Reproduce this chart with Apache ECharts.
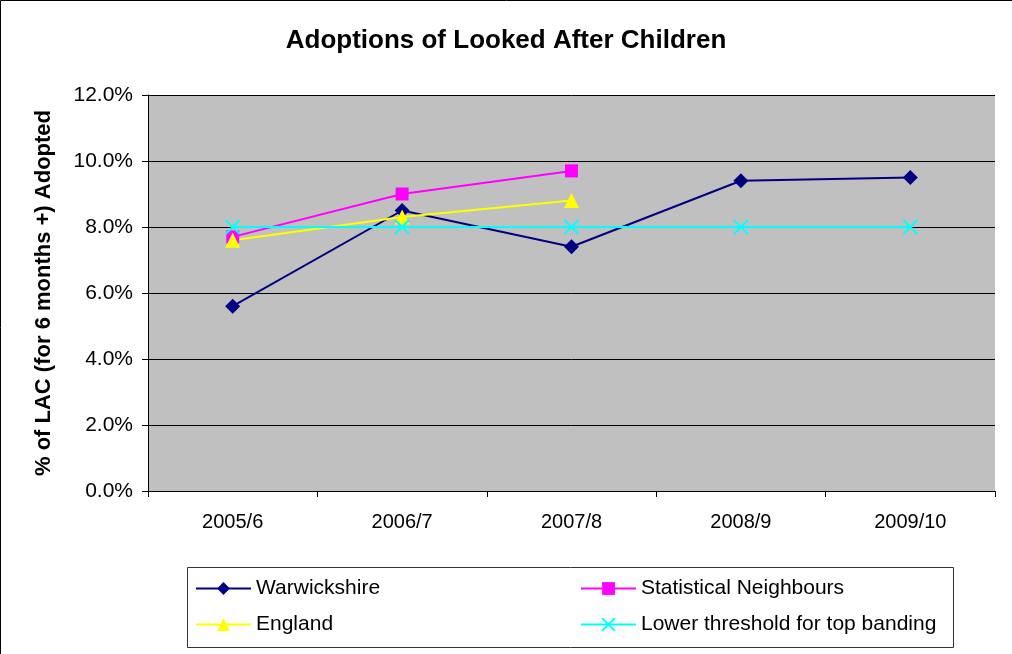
<!DOCTYPE html>
<html><head><meta charset="utf-8">
<script src="https://cdn.jsdelivr.net/npm/echarts@6/dist/echarts.min.js"></script>
<style>html,body{margin:0;padding:0;background:#fff}#c{width:1012px;height:654px}</style>
</head><body><div id="c"></div>
<script>
const categories = ['2005/6','2006/7','2007/8','2008/9','2009/10'];
const warwickshire = [5.6, 8.5, 7.4, 9.4, 9.5];
const statNeighbours = [7.7, 9.0, 9.7, null, null];
const england = [7.6, 8.3, 8.8, null, null];
const threshold = [8.0, 8.0, 8.0, 8.0, 8.0];

const chart = echarts.init(document.getElementById('c'), null, {renderer:'canvas'});
const F = 'Liberation Sans, Arial, sans-serif';
function s(name, data, color, symbol, size, extra){
  return Object.assign({name, type:'line', data, symbol, symbolSize:size, showSymbol:true,
    lineStyle:{color, width:2}, itemStyle:{color, borderWidth:0}, connectNulls:false, z: 3}, extra||{});
}
const legendText = {fontFamily:F, fontSize:21, color:'#000'};
chart.setOption({
  animation:false,
  backgroundColor:'#fff',
  title:{text:'Adoptions of Looked After Children', left:'center', top:23,
    textStyle:{fontFamily:F, fontWeight:'bold', fontSize:26, color:'#000'}},
  graphic:[
    {type:'rect', shape:{x:0.5,y:0.5,width:1200,height:1200}, style:{fill:'none', stroke:'#000', lineWidth:1}, z:-1},
    {type:'rect', shape:{x:187.5,y:567.5,width:766,height:80}, style:{fill:'#fff', stroke:'#333', lineWidth:1}, z:0}
  ],
  grid:{left:148, right:17, top:95, bottom:163, backgroundColor:'#c0c0c0', show:true, borderWidth:0},
  xAxis:{type:'category', data:categories, boundaryGap:true,
    axisLine:{lineStyle:{color:'#000', width:1}}, axisTick:{show:true, length:6, lineStyle:{color:'#000'}},
    axisLabel:{fontFamily:F, fontSize:20, color:'#000', margin:21}},
  yAxis:{type:'value', min:0, max:12, interval:2,
    name:'% of LAC (for 6 months +) Adopted', nameLocation:'middle', nameGap:93, nameRotate:90,
    nameTextStyle:{fontFamily:F, fontWeight:'bold', fontSize:22, color:'#000'},
    axisLine:{show:true, lineStyle:{color:'#000', width:1}}, axisTick:{show:true, length:6, lineStyle:{color:'#000'}},
    splitLine:{lineStyle:{color:'#000', width:1}},
    axisLabel:{fontFamily:F, fontSize:21, color:'#000', margin:15, formatter:v=>v.toFixed(1)+'%'}},
  legend:[
    {data:['Warwickshire','England'], orient:'vertical', left:190, top:573, itemGap:15, itemWidth:55, itemHeight:16,
      textStyle:legendText},
    {data:['Statistical Neighbours','Lower threshold for top banding'], orient:'vertical', left:575, top:573, itemGap:15, itemWidth:55, itemHeight:16,
      textStyle:legendText}
  ],
  series:[
    s('Warwickshire', warwickshire, '#000080', 'diamond', 15),
    s('Statistical Neighbours', statNeighbours, '#ff00ff', 'rect', 13),
    s('England', england, '#ffff00', 'triangle', 15),
    s('Lower threshold for top banding', threshold, '#00ffff', 'path://M0,0L10,10M10,0L0,10', 14,
      {itemStyle:{color:'#00ffff', borderColor:'#00ffff', borderWidth:2}})
  ]
});
</script></body></html>
